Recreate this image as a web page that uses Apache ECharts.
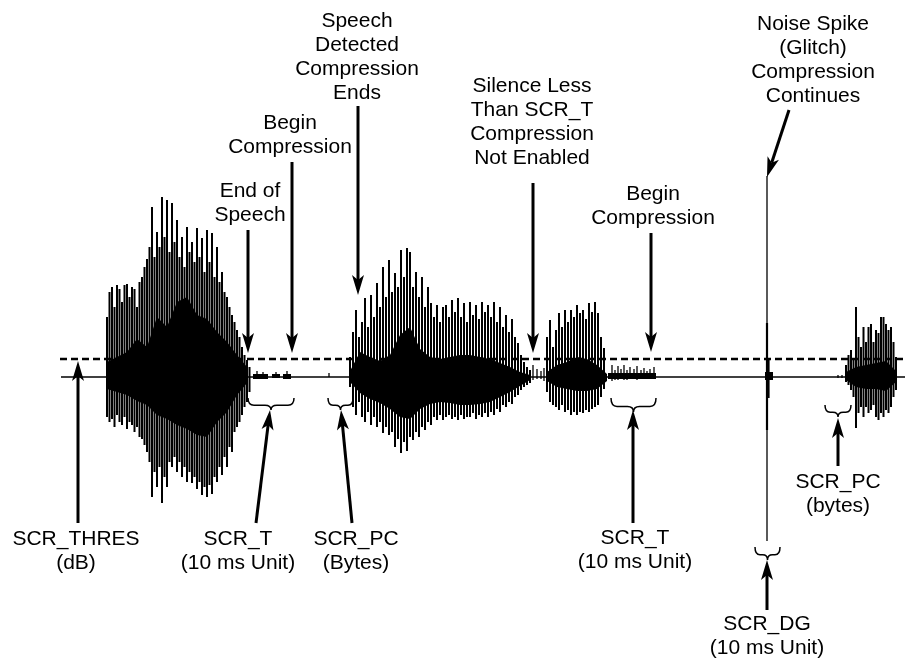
<!DOCTYPE html>
<html><head><meta charset="utf-8">
<script src="https://cdn.jsdelivr.net/npm/echarts@6/dist/echarts.min.js"></script>
<style>html,body{margin:0;padding:0;background:#fff}#c{width:905px;height:658px}</style>
</head><body><div id="c"></div><script>
// ---- time axis / amplitude (0 = silence level) ----
const traceStart = 61, traceEnd = 905;
const thresholdLevel = 18;   // SCR_THRES

// Burst 1 (speech)
const burst1Start = 107, burst1Step = 2.5;
const burst1Top = [60,85,90,70,92,88,75,92,93,80,90,88,70,95,100,110,118,130,170,120,145,130,180,140,177,125,174,135,157,120,140,110,150,125,135,115,149,120,139,105,147,115,144,100,130,95,105,85,80,70,62,55,47,40,30,22,17,10];
const burst1Bottom = [-40,-45,-42,-50,-38,-45,-48,-40,-52,-45,-48,-55,-50,-60,-62,-68,-75,-85,-120,-95,-110,-90,-126,-100,-110,-85,-90,-80,-95,-85,-100,-90,-105,-95,-106,-100,-112,-105,-118,-110,-120,-108,-117,-100,-105,-90,-98,-80,-90,-70,-75,-55,-50,-45,-38,-30,-25,-15];
const burst1CoreStep = 10;
const burst1CoreTop = [15,20,25,38,30,60,50,75,80,62,58,45,35,22,10];
const burst1CoreBottom = [-12,-15,-18,-24,-28,-38,-42,-48,-52,-58,-60,-45,-35,-18,-6];

// Burst 2 (speech detected)
const burst2Start = 350, burst2Step = 3;
const burst2Top = [20,45,67,40,55,79,50,82,60,94,70,110,80,117,85,104,90,127,100,129,125,90,105,80,100,70,90,74,60,72,55,70,72,60,77,65,79,60,74,55,75,62,72,58,75,65,72,60,75,55,70,50,62,45,58,40,34,22,15,10,7];
const burst2Bottom = [-10,-30,-38,-25,-40,-45,-35,-48,-40,-50,-45,-56,-50,-58,-55,-70,-62,-76,-65,-74,-60,-63,-55,-60,-50,-53,-45,-48,-40,-43,-38,-43,-40,-38,-42,-40,-43,-38,-42,-40,-40,-36,-42,-38,-40,-36,-40,-35,-38,-32,-35,-28,-30,-25,-27,-20,-18,-13,-10,-8,-6];
const burst2CoreStep = 10;
const burst2CoreTop = [6,25,20,16,22,42,50,28,20,18,20,22,22,20,18,14,10,5,2];
const burst2CoreBottom = [-5,-16,-22,-26,-32,-40,-42,-32,-27,-25,-26,-28,-28,-27,-25,-20,-15,-9,-3];

// Burst 3
const burst3Start = 547, burst3Step = 3;
const burst3Top = [40,57,30,47,64,50,67,55,67,60,72,64,67,58,74,65,75,64,40,29];
const burst3Bottom = [-15,-25,-28,-30,-33,-28,-35,-33,-38,-35,-38,-35,-36,-33,-35,-32,-30,-28,-20,-12];
const burst3CoreStep = 10;
const burst3CoreTop = [5,12,15,20,18,12,3];
const burst3CoreBottom = [-4,-10,-12,-14,-14,-12,-4];

// Burst 4 (after glitch)
const burst4Start = 846, burst4Step = 2.5;
const burst4Top = [12,22,27,18,70,40,30,50,35,50,53,35,47,44,60,60,53,47,50,35,20];
const burst4Bottom = [-5,-8,-13,-20,-51,-36,-30,-40,-30,-36,-33,-28,-40,-43,-36,-40,-33,-36,-30,-20,-13];
const burst4CoreStep = 10;
const burst4CoreTop = [5,10,12,14,16,6];
const burst4CoreBottom = [-3,-10,-12,-12,-14,-5];

// Low-level background noise: [tStart, tEnd, top, bottom]
const noiseBands = [[253,268,3,-2],[272,280,3,-1],[283,291,3,-2],[608,656,4,-2],[765,773,5,-3]];
// Isolated small blips: [t, top, bottom]
const noiseBlips = [[257,6,-2],[263,5,-2],[276,5,-1],[287,6,-2],[329,4,0],[533,12,-3],[537,8,-2],[541,6,-2],[544,9,-4],[612,12,-4],[615,7,-3],[618,11,-3],[621,8,-2],[624,12,-3],[627,7,-3],[630,10,-2],[634,8,-2],[637,11,-3],[641,7,-2],[644,9,-2],[647,6,-2],[650,8,-2],[654,10,-2],[838,2,-1],[842,2,-1]];
// Noise spike (glitch): [t, top, bottom]
const glitchOuter = [767,54,-53];
const glitchInner = [768,17,-21];
const glitchGuide = [767,201,-164];

// Annotation arrows: [tFrom, aFrom, tTo, aTo]
const arrows = [
  [78,-146,78,16],      // SCR_THRES
  [256,-146,270,-33],   // SCR_T
  [352,-146,341,-33],   // SCR_PC
  [633,-146,633,-33],   // SCR_T
  [767,-233,767,-183],  // SCR_DG
  [838,-89,838,-41],    // SCR_PC
  [248,147,248,24],     // End of Speech
  [292,215,292,24],     // Begin Compression
  [358,271,358,82],     // Speech Detected
  [533,194,533,24],     // Silence Less Than SCR_T
  [651,144,651,25],     // Begin Compression
  [789,267,767,200]     // Noise Spike
];
// Braces: [tStart, tEnd, aTop, aTip]
const braces = [[248,294,-21,-33],[328,353,-21,-33],[611,656,-21,-35],[755,780,-170,-183],[825,851,-28,-40]];
// Labels: [t, a, text]
const labels = [
  [76,-174.5,'SCR_THRES\n(dB)'],
  [238,-174.5,'SCR_T\n(10 ms Unit)'],
  [356,-174.5,'SCR_PC\n(Bytes)'],
  [635,-173.5,'SCR_T\n(10 ms Unit)'],
  [767,-259,'SCR_DG\n(10 ms Unit)'],
  [838,-117.5,'SCR_PC\n(bytes)'],
  [250,173.5,'End of\nSpeech'],
  [290,242,'Begin\nCompression'],
  [357,320,'Speech\nDetected\nCompression\nEnds'],
  [532,255,'Silence Less\nThan SCR_T\nCompression\nNot Enabled'],
  [653,170.5,'Begin\nCompression'],
  [813,316.5,'Noise Spike\n(Glitch)\nCompression\nContinues']
];

// ---- build series data ----
const bursts = [
  [burst1Start,burst1Step,burst1Top,burst1Bottom,burst1CoreStep,burst1CoreTop,burst1CoreBottom],
  [burst2Start,burst2Step,burst2Top,burst2Bottom,burst2CoreStep,burst2CoreTop,burst2CoreBottom],
  [burst3Start,burst3Step,burst3Top,burst3Bottom,burst3CoreStep,burst3CoreTop,burst3CoreBottom],
  [burst4Start,burst4Step,burst4Top,burst4Bottom,burst4CoreStep,burst4CoreTop,burst4CoreBottom]
];
const spikes = [];
bursts.forEach(b => b[2].forEach((v,i) => spikes.push([b[0]+i*b[1], v, b[3][i]])));
const blips = noiseBlips.map(d => d.slice());
const cores = bursts.map((b,i) => [b[0], i]);

const FONT = '21px "Liberation Sans", Arial, Helvetica, sans-serif';

function vline(width) {
  return (p,api)=>{
    const a = api.coord([api.value(0), api.value(1)]);
    const b = api.coord([api.value(0), api.value(2)]);
    return {type:'line', shape:{x1:a[0],y1:a[1],x2:b[0],y2:b[1]}, style:{stroke:'#000', lineWidth:width}};
  };
}

const chart = echarts.init(document.getElementById('c'), null, {renderer:'canvas'});
chart.setOption({
  animation:false,
  backgroundColor:'#fff',
  grid:{left:0,right:0,top:0,bottom:0},
  xAxis:{type:'value',min:0,max:905,show:false,splitLine:{show:false}},
  yAxis:{type:'value',min:-281,max:377,show:false,splitLine:{show:false}},
  series:[
    { // dense cores
      type:'custom', clip:false, silent:true, data:cores, encode:{x:0},
      renderItem:(p,api)=>{
        const b = bursts[p.dataIndex];
        const pts = [];
        b[5].forEach((v,i)=>pts.push(api.coord([b[0]+i*b[4], v])));
        for (let i=b[6].length-1;i>=0;i--) pts.push(api.coord([b[0]+i*b[4], b[6][i]]));
        return {type:'polygon', shape:{points:pts}, style:{fill:'#000'}};
      }
    },
    { // spikes
      type:'custom', clip:false, silent:true, data:spikes, encode:{x:0,y:[1,2]},
      renderItem:vline(2)
    },
    { // small blips
      type:'custom', clip:false, silent:true, data:blips, encode:{x:0,y:[1,2]},
      renderItem:vline(1.3)
    },
    { // noise bands
      type:'custom', clip:false, silent:true, data:noiseBands, encode:{x:[0,1],y:[2,3]},
      renderItem:(p,api)=>{
        const a = api.coord([api.value(0), api.value(2)]);
        const b = api.coord([api.value(1), api.value(3)]);
        return {type:'rect', shape:{x:a[0],y:a[1],width:b[0]-a[0],height:b[1]-a[1]}, style:{fill:'#000'}};
      }
    },
    { // glitch
      type:'custom', clip:false, silent:true, data:[glitchOuter.concat([2.2]), glitchInner.concat([3.2])], encode:{x:0,y:[1,2]},
      renderItem:(p,api)=>{
        const a = api.coord([api.value(0), api.value(1)]);
        const b = api.coord([api.value(0), api.value(2)]);
        return {type:'line', shape:{x1:a[0],y1:a[1],x2:b[0],y2:b[1]}, style:{stroke:'#000', lineWidth:api.value(3)}};
      }
    },
    { // silence baseline
      type:'line', silent:true, symbol:'none', data:[[traceStart,0],[traceEnd,0]],
      lineStyle:{color:'#000', width:1.3}
    },
    { // threshold (SCR_THRES)
      type:'line', silent:true, symbol:'none', data:[[traceStart-1,thresholdLevel],[traceEnd,thresholdLevel]],
      lineStyle:{color:'#000', width:2.6, type:[7,4]}
    },
    { // glitch guide line
      type:'custom', clip:false, silent:true, data:[glitchGuide], encode:{x:0,y:[1,2]},
      renderItem:vline(1.3)
    },
    { // arrows
      type:'custom', clip:false, silent:true, data:arrows, encode:{x:[0,2],y:[1,3]},
      renderItem:(p,api)=>{
        const p1 = api.coord([api.value(0), api.value(1)]);
        const p2 = api.coord([api.value(2), api.value(3)]);
        const dx=p2[0]-p1[0], dy=p2[1]-p1[1], len=Math.hypot(dx,dy);
        const ux=dx/len, uy=dy/len, nx=-uy, ny=ux;
        const L=20, W=6, N=5;
        const bx=p2[0]-ux*L, by=p2[1]-uy*L, mx=p2[0]-ux*(L-N), my=p2[1]-uy*(L-N);
        return {type:'group', children:[
          {type:'line', shape:{x1:p1[0],y1:p1[1],x2:mx,y2:my}, style:{stroke:'#000', lineWidth:3}},
          {type:'polygon', shape:{points:[[p2[0],p2[1]],[bx+nx*W,by+ny*W],[mx,my],[bx-nx*W,by-ny*W]]}, style:{fill:'#000'}}
        ]};
      }
    },
    { // braces
      type:'custom', clip:false, silent:true, data:braces, encode:{x:[0,1],y:[2,3]},
      renderItem:(p,api)=>{
        const a = api.coord([api.value(0), api.value(2)]);
        const b = api.coord([api.value(1), api.value(3)]);
        const x1=a[0], x2=b[0], yt=a[1], yp=b[1];
        const xm=(x1+x2)/2, mid=yt+(yp-yt)*0.6, r=Math.min(6,(x2-x1)/5);
        const d = `M${x1} ${yt} Q${x1} ${mid} ${x1+r} ${mid} L${xm-r} ${mid} Q${xm} ${mid} ${xm} ${yp} Q${xm} ${mid} ${xm+r} ${mid} L${x2-r} ${mid} Q${x2} ${mid} ${x2} ${yt}`;
        return {type:'path', shape:{pathData:d}, style:{stroke:'#000', lineWidth:1.5, fill:null}};
      }
    },
    { // labels
      type:'custom', clip:false, silent:true, data:labels.map(l=>[l[0],l[1]]), encode:{x:0,y:1},
      renderItem:(p,api)=>{
        const c = api.coord([api.value(0), api.value(1)]);
        return {type:'text', x:c[0], y:c[1], style:{text:labels[p.dataIndex][2], fill:'#000', font:FONT, align:'center', verticalAlign:'middle', lineHeight:24}};
      }
    }
  ]
});
</script></body></html>
